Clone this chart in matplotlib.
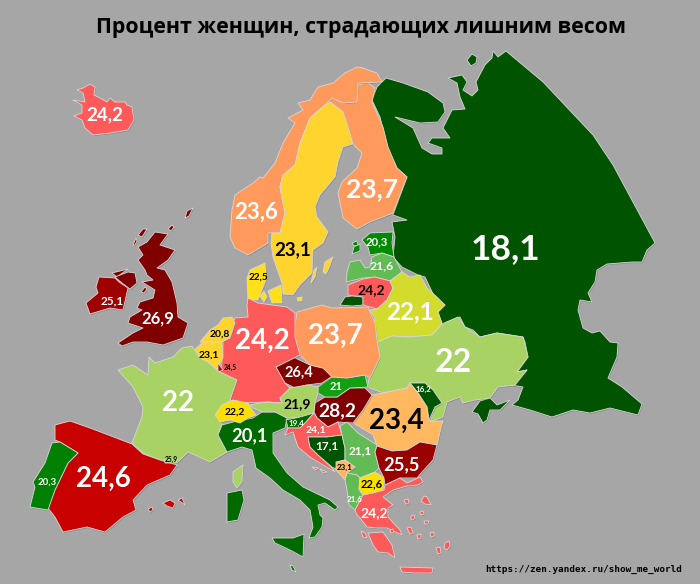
import matplotlib
matplotlib.use("Agg")
import matplotlib.pyplot as plt
from matplotlib.patches import Polygon
from matplotlib import patheffects as pe

TITLE = "Процент женщин, страдающих лишним весом"
SOURCE = "https://zen.yandex.ru/show_me_world"

# Country outlines (map coordinates)
russia = [(506,51),(543,82),(593,135),(613,165),(655,243),(647,250),(642,262),(632,262),(607,264),(597,270),(595,282),(588,293),(592,302),(580,300),(578,310),(583,328),(592,333),(600,331),(610,342),(618,343),(617,357),(608,378),(622,387),(642,404),(638,415),(610,408),(590,413),(573,410),(552,417),(530,410),(512,405),(518,400),(523,387),(512,385),(527,370),(517,372),(528,357),(525,342),(523,337),(497,333),(480,337),(473,330),(465,327),(460,317),(447,322),(442,325),(438,312),(445,305),(435,298),(425,277),(418,275),(402,267),(393,257),(395,237),(392,222),(407,220),(393,215),(407,177),(397,168),(388,150),(380,117),(372,100),(377,87),(386,78),(403,83),(428,92),(443,103),(445,112),(438,122),(420,123),(395,117),(413,128),(422,148),(432,154),(442,154),(442,148),(428,143),(432,138),(450,138),(443,128),(452,110),(465,109),(460,97),(457,83),(448,78),(462,75),(467,82),(463,90),(472,96),(478,90),(476,82),(485,65),(492,58),(493,51),(498,57)]
russia_island = [(467,60),(472,54),(477,57),(476,63),(471,66)]
kaliningrad = [(340,305),(345,297),(352,296),(363,297),(363,305),(352,306)]
crimea = [(472,412),(480,401),(490,398),(497,405),(510,400),(500,410),(490,410),(487,420),(483,423),(478,414)]
finland = [(332,98),(343,103),(357,102),(358,85),(367,82),(375,88),(372,102),(383,127),(388,147),(397,168),(407,177),(393,213),(370,222),(357,229),(343,218),(338,193),(342,182),(357,168),(362,153),(355,146),(353,144),(348,127),(343,112),(330,102)]
norway = [(377,73),(382,82),(358,83),(357,102),(343,103),(332,98),(325,105),(310,118),(300,143),(295,165),(283,175),(280,187),(285,213),(280,233),(272,233),(268,233),(268,243),(248,255),(235,248),(230,237),(232,210),(235,195),(253,183),(260,177),(263,178),(275,163),(283,143),(295,123),(288,118),(303,110),(298,103),(310,100),(318,87),(333,83),(345,73),(357,67),(363,68),(368,70)]
sweden = [(330,102),(343,112),(348,127),(353,144),(343,147),(338,162),(335,177),(320,195),(315,207),(317,217),(328,232),(323,243),(313,250),(312,273),(300,285),(293,295),(283,294),(282,283),(273,257),(271,243),(272,233),(280,233),(285,213),(280,187),(283,175),(295,165),(300,143),(310,118),(325,105)]
gotland = [(323,272),(325,262),(333,257),(329,268),(326,274)]
oland = [(311,283),(314,270),(317,267),(315,277)]
bornholm = [(297,298),(302,297),(302,301),(298,301)]
denmark = [(250,270),(265,263),(266,280),(258,300),(248,300),(247,278)]
zealand = [(268,291),(281,285),(282,303),(272,303),(270,297)]
funen = [(260,296),(264,291),(267,297),(264,302)]
estonia = [(362,240),(370,233),(393,232),(392,243),(394,257),(382,253),(370,255),(368,247)]
saaremaa = [(352,254),(354,247),(360,244),(360,251)]
hiiumaa = [(352,243),(357,241),(358,245),(354,246)]
latvia = [(350,262),(360,260),(365,268),(370,267),(372,257),(382,253),(394,257),(402,272),(390,281),(375,277),(363,278),(346,282),(347,272)]
lithuania = [(348,285),(363,279),(375,277),(390,281),(393,288),(387,300),(377,309),(363,305),(363,297),(348,295)]
belarus = [(377,309),(387,300),(393,288),(390,281),(402,272),(410,277),(420,275),(427,288),(438,298),(445,305),(438,312),(442,323),(432,335),(410,337),(392,336),(377,342),(372,333),(375,318),(370,310)]
ukraine = [(377,342),(392,336),(410,337),(432,335),(442,324),(458,317),(465,327),(480,337),(497,333),(523,337),(528,357),(517,372),(527,370),(515,385),(498,387),(490,398),(475,400),(463,403),(460,397),(447,402),(443,417),(430,422),(435,407),(442,403),(433,390),(425,383),(410,383),(407,388),(383,393),(367,387),(372,368),(380,355)]
moldova = [(410,383),(425,383),(433,390),(442,403),(435,407),(429,420),(427,407),(418,393)]
romania = [(372,395),(383,393),(407,388),(410,383),(418,393),(427,407),(429,421),(443,421),(441,428),(437,445),(420,442),(407,450),(392,451),(377,446),(373,435),(353,423),(363,410)]
hungary = [(315,403),(325,397),(337,397),(350,388),(365,388),(372,395),(363,410),(353,423),(338,422),(328,427),(317,418),(314,412)]
slovakia = [(318,387),(332,377),(347,378),(365,375),(368,387),(350,388),(337,397),(325,397),(318,393)]
czechia = [(276,367),(293,357),(310,365),(323,368),(334,375),(322,383),(307,385),(295,388),(285,383),(277,372)]
poland = [(295,325),(297,312),(322,305),(332,308),(368,307),(375,323),(377,340),(380,357),(370,378),(365,375),(347,378),(332,377),(323,368),(310,365),(300,355),(295,337)]
germany = [(248,298),(258,303),(272,305),(287,307),(295,313),(295,337),(300,355),(276,367),(285,383),(290,388),(280,398),(282,403),(267,402),(242,403),(230,400),(235,383),(220,372),(223,357),(223,343),(235,318),(248,317),(247,305)]
netherlands = [(218,325),(223,318),(232,317),(235,323),(230,338),(222,342),(200,342),(210,330)]
belgium = [(192,352),(203,342),(222,342),(223,357),(218,370),(208,362),(200,358)]
luxembourg = [(218,363),(223,370),(218,372)]
france = [(192,346),(200,358),(208,362),(218,371),(237,380),(230,400),(217,413),(222,425),(218,435),(227,452),(210,462),(188,452),(177,463),(160,460),(143,453),(132,443),(142,417),(143,407),(133,387),(118,370),(133,365),(148,375),(149,357),(155,363),(173,357),(182,348)]
corsica = [(233,472),(243,465),(242,482),(237,488),(233,482)]
spain = [(55,425),(70,421),(90,428),(132,444),(143,454),(160,460),(177,465),(170,475),(147,485),(133,500),(136,510),(123,517),(105,532),(87,527),(63,532),(55,517),(48,508),(55,490),(68,463),(78,453),(60,442),(55,440)]
mallorca = [(163,503),(170,500),(175,503),(173,508),(167,506)]
menorca = [(178,500),(182,498),(185,505),(181,502)]
ibiza = [(148,509),(152,507),(153,510),(150,512)]
portugal = [(52,443),(60,442),(78,453),(68,463),(55,490),(48,510),(30,507),(35,487),(33,482),(45,463)]
andorra = [(164,460),(178,459),(176,463),(165,463)]
italy = [(218,435),(222,425),(233,422),(253,418),(262,412),(277,412),(287,418),(285,428),(273,433),(273,453),(287,473),(303,487),(330,500),(338,507),(335,510),(325,503),(318,505),(320,515),(323,518),(322,527),(315,537),(309,538),(313,527),(310,510),(300,500),(283,490),(270,478),(256,468),(252,450),(242,447),(227,452)]
sicily = [(272,538),(293,538),(304,534),(303,557),(290,550),(275,543)]
sardinia = [(227,493),(242,490),(244,500),(238,520),(227,522)]
malta = [(290,565),(293,566),(296,572),(292,570)]
switzerland = [(215,415),(222,405),(233,400),(248,403),(252,410),(256,415),(248,418),(240,423),(230,420),(220,422)]
austria = [(250,405),(267,402),(282,403),(280,398),(290,388),(307,385),(318,387),(318,393),(315,403),(314,412),(307,417),(287,418),(275,412),(262,412),(253,408)]
slovenia = [(286,420),(300,417),(314,413),(306,422),(300,428),(288,428)]
croatia = [(288,428),(300,428),(306,422),(314,413),(317,418),(328,427),(338,422),(342,435),(327,437),(308,437),(310,447),(318,455),(332,468),(335,472),(323,465),(310,457),(298,447),(293,432),(285,435)]
bosnia = [(308,437),(327,437),(342,435),(345,448),(345,460),(337,462),(336,469),(332,467),(318,455),(310,447)]
serbia = [(340,426),(347,422),(358,433),(377,445),(375,452),(379,468),(375,472),(360,478),(357,475),(347,473),(355,467),(345,460),(345,448),(342,435)]
montenegro = [(336,462),(345,460),(355,467),(347,473),(345,480),(336,470)]
albania = [(347,473),(357,475),(360,478),(359,490),(363,495),(355,510),(349,505),(347,490),(345,480)]
macedonia = [(360,478),(375,472),(384,478),(383,490),(373,493),(363,495),(359,488)]
bulgaria = [(377,446),(392,451),(407,450),(420,442),(437,445),(433,460),(422,472),(417,478),(400,478),(385,485),(384,478),(379,468),(375,452)]
greece = [(355,510),(363,495),(373,493),(384,490),(385,485),(400,478),(407,483),(420,477),(423,482),(418,485),(407,486),(393,490),(383,497),(393,505),(388,508),(388,517),(400,530),(402,535),(387,528),(378,528),(367,527),(360,518),(357,515)]
peloponnese = [(368,533),(383,532),(392,545),(395,558),(388,553),(378,552),(373,545)]
crete = [(400,567),(433,568),(432,573),(415,573),(402,572)]
aegean_a = [(421,501),(424,496),(427,497),(431,505),(425,504)]
aegean_b = [(411,516),(414,515),(415,518),(413,520),(411,519)]
aegean_c = [(420,512),(423,511),(424,514),(422,515),(420,514)]
aegean_d = [(404,500),(408,499),(409,503),(406,504)]
aegean_e = [(445,543),(449,541),(450,546),(447,550),(444,548)]
aegean_f = [(436,548),(440,547),(441,553),(438,554)]
aegean_g = [(424,521),(429,521),(428,524),(425,524)]
aegean_h = [(417,535),(421,534),(421,538),(418,539)]
aegean_i = [(407,528),(411,527),(413,533),(410,534)]
aegean_j = [(430,533),(434,532),(434,536),(431,537)]
aegean_k = [(390,530),(393,529),(394,533),(391,533)]
aegean_l = [(361,531),(365,533),(367,538),(363,537)]
dalmatia_a = [(312,467),(318,468),(316,470)]
dalmatia_b = [(320,469),(327,472),(323,473)]
iceland = [(73,100),(85,102),(83,93),(77,90),(83,88),(90,84),(95,87),(94,95),(100,98),(107,102),(110,98),(115,102),(125,102),(127,105),(132,107),(134,120),(128,130),(110,133),(93,135),(85,128),(82,120),(74,116),(82,113),(82,105)]
ireland = [(99,277),(115,278),(119,282),(128,288),(123,310),(110,308),(90,314),(86,303),(98,293),(96,287)]
donegal = [(112,273),(128,269),(117,277)]
ulster = [(115,277),(128,272),(135,273),(137,283),(130,289),(122,283)]
britain = [(118,343),(133,333),(143,328),(128,323),(130,317),(142,310),(137,308),(140,302),(153,298),(155,290),(142,282),(153,280),(147,275),(145,270),(138,260),(143,255),(138,247),(147,242),(155,232),(168,234),(160,245),(175,250),(168,260),(157,268),(165,270),(172,282),(177,303),(178,317),(188,323),(183,338),(163,345),(147,342),(133,342),(122,346)]
hebrides = [(138,235),(143,229),(147,229),(142,237)]
uist = [(133,245),(136,238),(137,241),(135,245)]
orkney = [(168,229),(172,225),(174,227),(171,231)]
shetland = [(185,218),(187,211),(193,208),(189,216)]
man = [(141,292),(145,287),(147,289),(144,293)]

# Country values as printed on the map
RU=18.1; FI=23.7; NO=23.6; SE=23.1; IS=24.2; GB=26.9; IE=25.1; DK=22.5; EE=20.3; LV=21.6; LT=24.2
BY=22.1; PL=23.7; DE=24.2; UA=22; FR=22; ES=24.6; PT=20.3; NL=20.8; BE=23.1; LU=24.5; AD=25.9
CH=22.2; IT=20.1; AT=21.9; SI=19.4; CZ=26.4; SK=21; HU=28.2; RO=23.4; MD=16.2; HR=24.1; BA=17.1
RS=21.1; ME=23.1; BG=25.5; MK=22.6; AL=21.6; GR=24.2

shapes = [
 ([russia,russia_island,kaliningrad,crimea],'#005400'), ([finland],'#ff9a5c'), ([norway],'#ff9a5c'),
 ([sweden,gotland,oland],'#ffd42e'), ([denmark,zealand,funen],'#ffe01a'), ([bornholm],'#ffe01a'),
 ([estonia,saaremaa,hiiumaa],'#008a00'), ([latvia],'#63bb55'), ([lithuania],'#ff5a5a'), ([belarus],'#d3dc2d'),
 ([ukraine],'#a8d263'), ([moldova],'#005400'), ([romania],'#ffb860'), ([hungary],'#800000'), ([slovakia],'#12a012'),
 ([czechia],'#800000'), ([poland],'#ff9a5c'), ([germany],'#ff5a5a'), ([netherlands],'#ffd42e'), ([belgium],'#ffd42e'),
 ([luxembourg],'#c00000'), ([france,corsica],'#a8d263'), ([spain,mallorca,menorca,ibiza],'#c80000'), ([portugal],'#008000'),
 ([andorra],'#a8d263'), ([italy,sicily,sardinia,malta],'#006a00'), ([switzerland],'#ffdf00'), ([austria],'#a8d263'),
 ([slovenia],'#006a00'), ([croatia,dalmatia_a,dalmatia_b],'#ff5a5a'), ([bosnia],'#005400'), ([serbia],'#63bb55'), ([montenegro],'#ffb860'),
 ([albania],'#63bb55'), ([macedonia],'#ffe000'), ([bulgaria],'#990000'),
 ([greece,peloponnese,crete,aegean_a,aegean_b,aegean_c,aegean_d,aegean_e,aegean_f,aegean_g,aegean_h,aegean_i,aegean_j,aegean_k,aegean_l],'#ff5a5a'),
 ([iceland],'#ff5a5a'), ([ireland],'#9e0000'), ([donegal,ulster,britain,hebrides,uist,orkney,shetland,man],'#800000'),
]

label_values = [RU,FI,NO,SE,IS,GB,IE,DK,EE,LV,LT,BY,PL,DE,UA,FR,ES,PT,NL,BE,LU,AD,CH,IT,AT,SI,CZ,SK,HU,RO,MD,HR,BA,RS,ME,BG,MK,AL,GR]
label_x = [506,372,256,293,105,158,112,258,377,382,371,410,335,262,453,178,103,47,220,209,230,171,235,249,297,296,299,336,337,396,423,316,327,360,345,401,372,355,374]
label_y = [249,189,212,250,115,319,301,277,242,266,290,312,336,341,362,403,479,482,334,355,367,459,412,436,404,423,373,386,411,421,389,430,446,451,467,465,484,499,513]
label_size = [25.5,19,16,13.5,13.5,12,8.5,7.2,8.2,8.8,10,17.5,20,20,23,20,20,7,7.5,7.5,4.8,4.8,7.5,13.2,10,5.8,10.5,8,13.8,20,5.8,7.5,8.5,8.5,5.8,13.2,8,5.8,10]
dark_index = {3,7,10,18,19,20,21,22,24,29,34,36}

fig = plt.figure(figsize=(7.0, 5.84), dpi=100, facecolor='#a6a6a6')
ax = fig.add_axes([0, 0, 1, 1])
ax.set_xlim(0, 700)
ax.set_ylim(584, 0)
ax.axis('off')

shadow = [pe.SimplePatchShadow(offset=(0.6, -0.8), shadow_rgbFace='#555555', alpha=0.35), pe.Normal()]
for parts, colour in shapes:
    for part in parts:
        ax.add_patch(Polygon(part, closed=True, facecolor=colour, edgecolor='#d8d8d8', linewidth=0.6,
                             joinstyle='round', path_effects=shadow))

for i, (v, x, y, s) in enumerate(zip(label_values, label_x, label_y, label_size)):
    text = f"{v:g}".replace('.', ',')
    ax.text(x, y, text, ha='center', va='center', fontsize=s, family='Lato', fontweight='bold',
            color='black' if i in dark_index else 'white')

ax.text(361, 28, TITLE, ha='center', va='center', fontsize=15.4, family='Open Sans', fontweight='bold', color='black')
ax.text(682, 569, SOURCE, ha='right', va='center', fontsize=6.7, family='DejaVu Sans Mono', fontweight='bold', color='black')

fig.savefig('out.png', dpi=100, facecolor=fig.get_facecolor())
